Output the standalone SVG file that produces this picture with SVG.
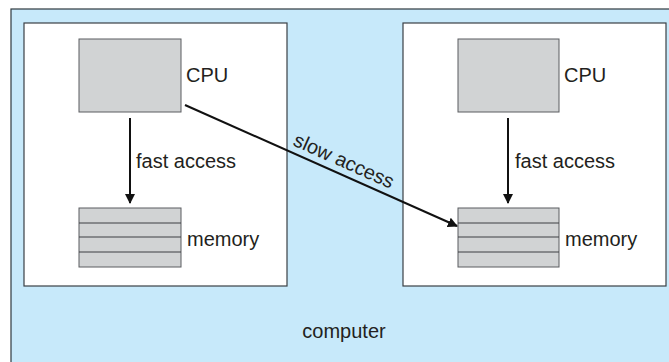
<svg xmlns="http://www.w3.org/2000/svg" width="669" height="362" viewBox="0 0 669 362">
<style>
.outer{fill:#c7e9fa;stroke:#2f3a40;stroke-width:1.2}
.inner{fill:#ffffff;stroke:#3a4045;stroke-width:1.2}
.chip{fill:#d1d3d4;stroke:#5a5d60;stroke-width:1}
.row{stroke:#3c3f42;stroke-width:1}
.lbl{font-family:"Liberation Sans",Arial,sans-serif;font-size:20px;fill:#231f20}
.conn{stroke:#111;stroke-width:2;fill:none}
</style>
<defs>
<marker id="ah" viewBox="0 0 10 10" refX="9" refY="5" markerWidth="5" markerHeight="5" orient="auto" markerUnits="strokeWidth">
<path d="M0,0 L10,5 L0,10 z" fill="#111"/>
</marker>
</defs>
<g id="computer">
<rect class="outer" x="11" y="9" width="670" height="365"/>
<text class="lbl" x="344" y="338" text-anchor="middle">computer</text>
</g>
<g id="node-left">
<rect class="inner" x="24" y="23" width="263" height="263"/>
</g>
<g id="node-right">
<rect class="inner" x="403" y="23" width="263" height="263"/>
</g>
<g id="cpu-left">
<rect class="chip" x="79" y="39" width="102" height="73"/>
<text class="lbl" x="186" y="82">CPU</text>
</g>
<g id="cpu-right">
<rect class="chip" x="458" y="39" width="101" height="73"/>
<text class="lbl" x="564" y="82">CPU</text>
</g>
<g id="memory-left">
<rect class="chip" x="79" y="208" width="102" height="59"/>
<line class="row" x1="79" y1="223" x2="181" y2="223"/>
<line class="row" x1="79" y1="237" x2="181" y2="237"/>
<line class="row" x1="79" y1="252" x2="181" y2="252"/>
<text class="lbl" x="187" y="246">memory</text>
</g>
<g id="memory-right">
<rect class="chip" x="458" y="208" width="101" height="59"/>
<line class="row" x1="458" y1="223" x2="559" y2="223"/>
<line class="row" x1="458" y1="237" x2="559" y2="237"/>
<line class="row" x1="458" y1="252" x2="559" y2="252"/>
<text class="lbl" x="565" y="246">memory</text>
</g>
<g id="connectors">
<line class="conn" x1="130" y1="118" x2="130" y2="203" marker-end="url(#ah)"/>
<text class="lbl" x="136" y="168">fast access</text>
<line class="conn" x1="508" y1="118" x2="508" y2="203" marker-end="url(#ah)"/>
<text class="lbl" x="515" y="168">fast access</text>
<line class="conn" x1="185" y1="105" x2="457" y2="226" marker-end="url(#ah)"/>
<text class="lbl" x="292" y="145" transform="rotate(24 292 145)">slow access</text>
</g>
</svg>
